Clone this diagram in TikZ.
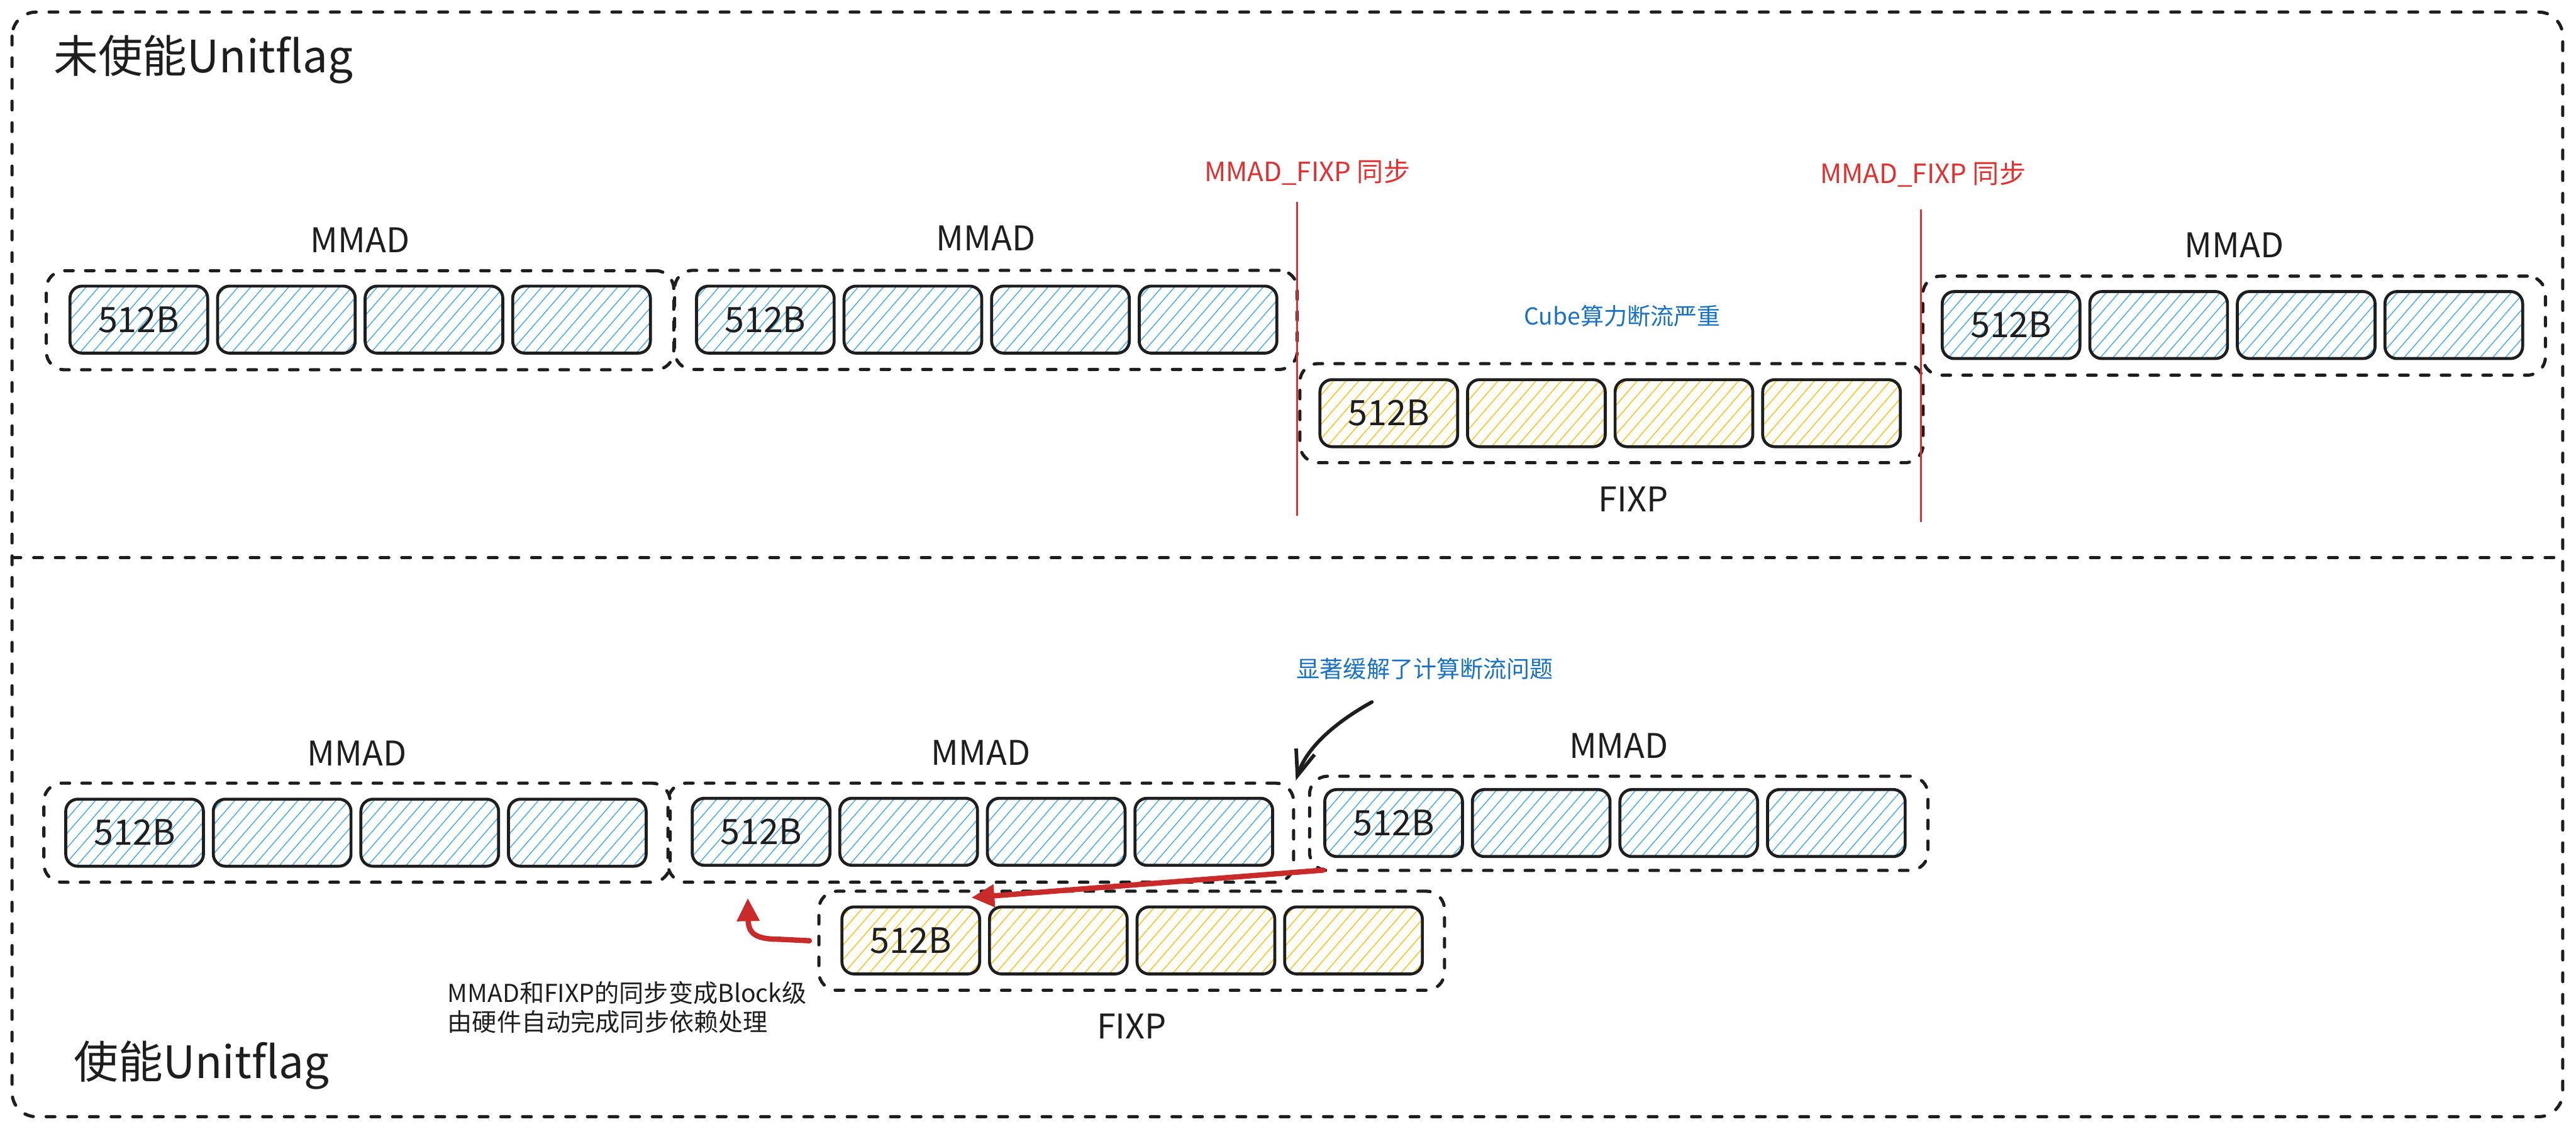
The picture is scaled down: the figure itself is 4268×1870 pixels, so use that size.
\documentclass[tikz,border=0pt]{standalone}
\usepackage{fontspec}
\setmainfont{Noto Sans CJK SC}
\usetikzlibrary{positioning,calc,arrows.meta,patterns.meta}
\definecolor{inkblack}{HTML}{1E1E1E}
\definecolor{hatchblue}{HTML}{4DABF7}
\definecolor{hatchyellow}{HTML}{FCC419}
\definecolor{syncred}{HTML}{E03131}
\definecolor{arrowred}{HTML}{C92A2A}
\definecolor{noteblue}{HTML}{1971C2}

\begin{document}
\begin{tikzpicture}[x=0.01cm,y=-0.01cm,
  panel/.style={draw=inkblack,line width=1.5pt,dash pattern=on 4.1pt off 6.1pt,line cap=round,rounded corners=0.4cm},
  grp/.style={draw=inkblack,line width=1.5pt,dash pattern=on 4pt off 5.8pt,line cap=round,rounded corners=0.3cm,inner sep=0pt,minimum height=1.64cm},
  cell/.style={draw=inkblack,line width=1.4pt,rounded corners=0.2cm,minimum width=2.28cm,minimum height=1.11cm,inner sep=0pt,
    pattern={Lines[angle=49,distance=4.5pt,line width=0.45pt]},text=inkblack,font=\fontsize{16.5}{19}\selectfont},
  grplabel/.style={inner sep=0pt,text=inkblack,font=\fontsize{16}{19}\selectfont},
  title/.style={inner sep=0pt,text=inkblack,font=\fontsize{21}{25}\selectfont},
  synclabel/.style={inner sep=0pt,text=syncred,font=\fontsize{12.5}{15}\selectfont},
  syncline/.style={draw=syncred,line width=0.9pt},
  note/.style={inner sep=0pt,text=noteblue,font=\fontsize{11}{13}\selectfont},
  comment/.style={inner sep=0pt,text=inkblack,align=left,font=\fontsize{11.6}{13.6}\selectfont},
  redarrow/.style={draw=arrowred,line width=2.5pt,line cap=round,-{Triangle[length=0.38cm,width=0.36cm]}},
  hintarrow/.style={draw=inkblack,line width=1.7pt,line cap=round,-{Straight Barb[length=0.42cm,width=0.32cm]}}]
  \useasboundingbox (0,0) rectangle (4268,1870);

  % two panels
  \draw[panel] (20,20) rectangle (4246,1850);
  \draw[panel] (20,924) -- (4246,924);
  \node[title,anchor=base west] (ttop) at (88,120) {未使能Unitflag};
  \node[title,anchor=base west] (tbot) at (122,1786) {使能Unitflag};

  % groups
  \node[grp,minimum width=10.39cm] (tm1) at (596.5,530.5) {};
  \node[grp,minimum width=10.31cm] (tm2) at (1633.5,530) {};
  \node[grp,minimum width=10.32cm] (tfx) at (2670,684.5) {};
  \node[grp,minimum width=10.31cm] (tm3) at (3701.5,539.5) {};
  \node[grp,minimum width=10.37cm] (bm1) at (591.5,1379.5) {};
  \node[grp,minimum width=10.36cm] (bm2) at (1625,1379.5) {};
  \node[grp,minimum width=10.24cm,minimum height=1.56cm] (bm3) at (2682,1364) {};
  \node[grp,minimum width=10.36cm] (bfx) at (1875,1558.5) {};

  % 512B blocks
  \foreach \grpname/\col/\xx/\yy in {tm1/hatchblue/230/529.5,tm2/hatchblue/1268/529.5,
      tfx/hatchyellow/2301/684.5,tm3/hatchblue/3332/538.5,bm1/hatchblue/223/1379.5,
      bm2/hatchblue/1261/1378,bm3/hatchblue/2309/1363.5,bfx/hatchyellow/1509/1558}
    \foreach \i/\lbl in {0/512B,1/,2/,3/}
      \node[cell,pattern color=\col] (\grpname c\i) at ({\xx+244.5*\i},\yy) {\lbl};

  % group labels
  \node[grplabel,above=0.27cm of tm1] (tm1l) {MMAD};
  \node[grplabel,above=0.29cm of tm2] (tm2l) {MMAD};
  \node[grplabel,below=0.36cm of tfx,xshift=0.36cm] (tfxl) {FIXP};
  \node[grplabel,above=0.27cm of tm3] (tm3l) {MMAD};
  \node[grplabel,above=0.25cm of bm1] (bm1l) {MMAD};
  \node[grplabel,above=0.27cm of bm2] (bm2l) {MMAD};
  \node[grplabel,above=0.26cm of bm3] (bm3l) {MMAD};
  \node[grplabel,below=0.36cm of bfx] (bfxl) {FIXP};

  % sync points
  \node[synclabel] (sync1) at (2166,285) {MMAD\_FIXP 同步};
  \node[synclabel] (sync2) at (3186,288) {MMAD\_FIXP 同步};
  \coordinate (s1top) at (2149,334);
  \coordinate (s1bot) at (2149,854);
  \coordinate (s2top) at (3183,347);
  \coordinate (s2bot) at (3183,865);
  \draw[syncline] (s1top) -- (s1bot);
  \draw[syncline] (s2top) -- (s2bot);
  \node[note] (stall) at (2688,523) {Cube算力断流严重};

  % unitflag notes
  \node[note] (gain) at (2361,1108) {显著缓解了计算断流问题};
  \coordinate (hintstart) at (2273,1163);
  \coordinate (hinttip) at (2147,1293);
  \draw[hintarrow] (hintstart) .. controls (2212,1197) and (2165,1238) .. (hinttip);

  \draw[redarrow] ([yshift=-0.2cm]bm3c0.south west) -- ([xshift=-0.16cm,yshift=0.13cm]bfxc0.north east);
  \coordinate (uptip) at (1239,1488);
  \draw[redarrow] ([xshift=-0.13cm]bfx.west) -- (1290,1556) .. controls (1250,1556) and (1240,1545) .. (uptip);

  \node[comment,anchor=west] (hwnote) at (741,1669) {MMAD和FIXP的同步变成Block级\\由硬件自动完成同步依赖处理};
\end{tikzpicture}
\end{document}
